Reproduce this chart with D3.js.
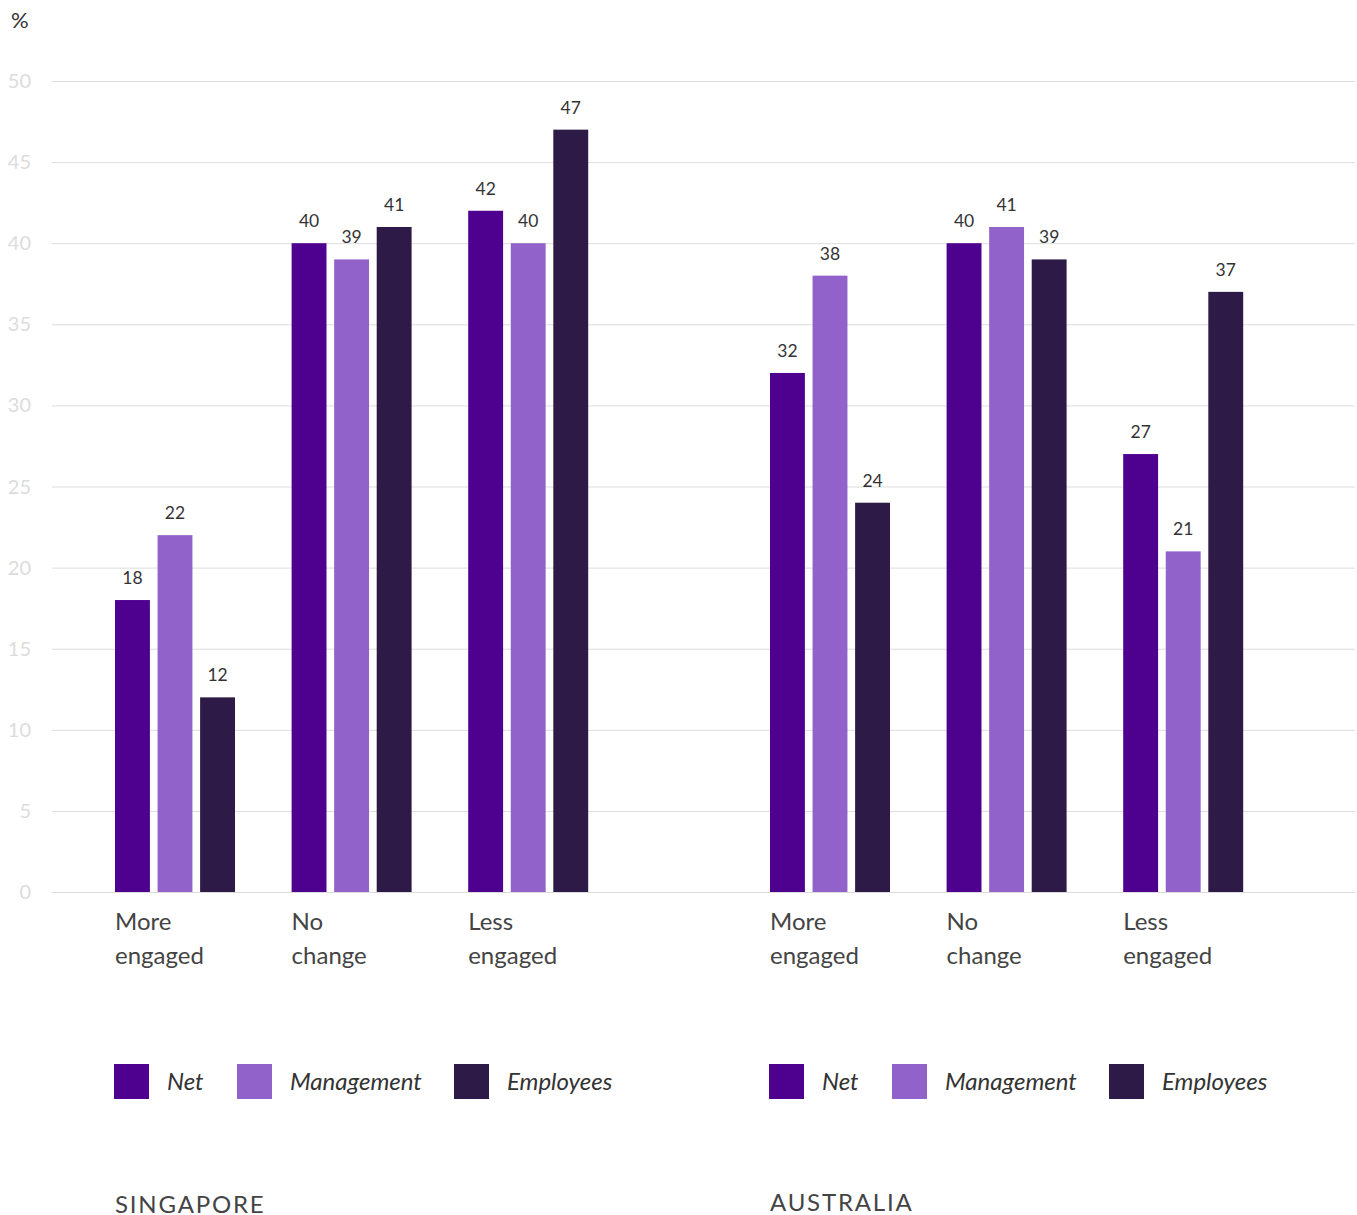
<!DOCTYPE html>
<html><head><meta charset="utf-8">
<script src="https://cdn.jsdelivr.net/npm/d3@7"></script>
<style>body{margin:0;background:#fff;} svg{display:block;font-family:Lato,"Open Sans",sans-serif;}</style>
</head><body>
<script>
const categories = ["More engaged", "No change", "Less engaged"];
const categoryLines = [["More","engaged"],["No","change"],["Less","engaged"]];
const seriesNames = ["Net", "Management", "Employees"];
const countries = ["SINGAPORE", "AUSTRALIA"];
const singaporeValues = [[18,22,12],[40,39,41],[42,40,47]];
const australiaValues = [[32,38,24],[40,41,39],[27,21,37]];
const yTicks = [0,5,10,15,20,25,30,35,40,45,50];
const colors = ["#4e008e","#9162c9","#2e1a47"];

const W = 1357, H = 1215;
const svg = d3.select("body").append("svg").attr("width", W).attr("height", H);

const y = d3.scaleLinear().domain([0,50]).range([892,81]);

svg.append("g").selectAll("line").data(yTicks).join("line")
  .attr("x1",52).attr("x2",1355)
  .attr("y1",d=>y(d)+0.5).attr("y2",d=>y(d)+0.5)
  .attr("stroke","#dcdcdc").attr("stroke-width",1);
svg.append("g").selectAll("text").data(yTicks).join("text")
  .attr("x",31).attr("y",d=>y(d)+7)
  .attr("text-anchor","end").attr("font-size",20).attr("fill","#dcdcdc")
  .text(d=>d);

svg.append("text").attr("x",11).attr("y",28).attr("font-size",22).attr("fill","#333").text("%");

const panels = [
  {name: countries[0], values: singaporeValues, x0: 115, titleY: 1213},
  {name: countries[1], values: australiaValues, x0: 770, titleY: 1211}
];

const sub = d3.scaleBand().domain(seriesNames).range([0,120]).paddingInner(0.18).paddingOuter(0);

panels.forEach(p => {
  const x = d3.scaleBand().domain(categories).range([p.x0, p.x0 + 176.6*3]).paddingInner(0).paddingOuter(0).align(0);
  const g = svg.append("g");
  categories.forEach((c, ci) => {
    const gg = g.append("g").attr("transform", `translate(${x(c)},0)`);
    const vals = p.values[ci];
    gg.selectAll("rect").data(seriesNames).join("rect")
      .attr("x", s=>sub(s)).attr("width", sub.bandwidth())
      .attr("y", (s,i)=>y(vals[i])).attr("height",(s,i)=>y(0)-y(vals[i]))
      .attr("fill",(s,i)=>colors[i]);
    gg.selectAll("text.v").data(seriesNames).join("text").attr("class","v")
      .attr("x", s=>sub(s)+sub.bandwidth()/2).attr("y",(s,i)=>y(vals[i])-16)
      .attr("text-anchor","middle").attr("font-size",17.5).attr("fill","#333")
      .text((s,i)=>vals[i]);
    const t = gg.append("text").attr("font-size",24).attr("fill","#444");
    categoryLines[ci].forEach((ln, li) => {
      t.append("tspan").attr("x",0).attr("y", 930 + li*34).text(ln);
    });
  });
  const legX = [0, 123, 340];
  const lg = svg.append("g").attr("transform",`translate(${p.x0-1},0)`);
  seriesNames.forEach((s,i) => {
    lg.append("rect").attr("x",legX[i]).attr("y",1064).attr("width",35).attr("height",35).attr("fill",colors[i]);
    lg.append("text").attr("x",legX[i]+53).attr("y",1090).attr("font-size",24)
      .attr("font-style","italic").attr("fill","#333").text(s);
  });
  svg.append("text").attr("x",p.x0).attr("y",p.titleY).attr("font-size",24)
    .attr("letter-spacing",1.8).attr("fill","#444").text(p.name);
});
</script>
</body></html>
